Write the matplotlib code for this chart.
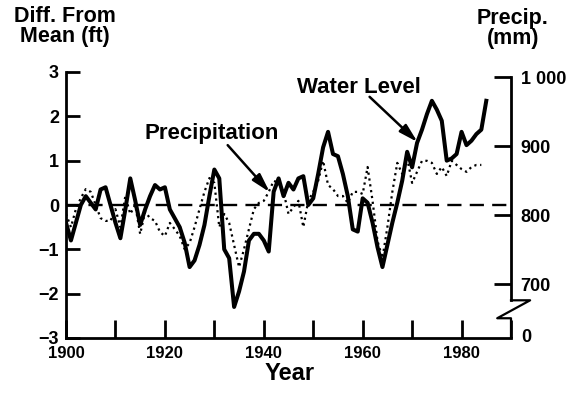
import matplotlib
matplotlib.use("Agg")
import matplotlib.pyplot as plt
from matplotlib.lines import Line2D

# annual water level, difference from mean (ft), 1900-1985
water_level = [
    -0.4, -0.8, -0.4, 0.0, 0.2, 0.05, -0.1, 0.35, 0.4, 0.0,
    -0.4, -0.75, -0.1, 0.6, 0.1, -0.45, -0.1, 0.2, 0.45, 0.35,
    0.4, -0.1, -0.3, -0.5, -0.85, -1.4, -1.25, -0.9, -0.45, 0.2,
    0.8, 0.6, -1.0, -1.2, -2.3, -1.95, -1.5, -0.8, -0.65, -0.65,
    -0.8, -1.05, 0.3, 0.6, 0.2, 0.5, 0.35, 0.6, 0.65, 0.0,
    0.15, 0.7, 1.3, 1.65, 1.15, 1.1, 0.7, 0.2, -0.55, -0.6,
    0.15, 0.05, -0.4, -0.95, -1.4, -0.9, -0.4, 0.05, 0.55, 1.2,
    0.85, 1.4, 1.7, 2.05, 2.35, 2.15, 1.9, 1.0, 1.05, 1.15,
    1.65, 1.35, 1.45, 1.6, 1.7, 2.35,
]

# annual precipitation (mm), 1900-1984
precip_mm = [
    802, 783, 809, 825, 838, 834, 815, 796, 792, 792,
    809, 783, 828, 802, 815, 773, 805, 796, 792, 776,
    770, 789, 780, 770, 751, 760, 783, 809, 834, 854,
    847, 783, 802, 789, 757, 725, 751, 780, 809, 818,
    821, 834, 850, 847, 834, 802, 812, 821, 783, 821,
    834, 850, 879, 844, 838, 828, 828, 818, 834, 834,
    831, 870, 821, 763, 738, 783, 834, 876, 860, 883,
    847, 863, 879, 879, 876, 860, 870, 857, 879, 873,
    867, 863, 870, 873, 873,
]

first_year = 1900
x_ticks = list(range(1900, 1991, 10))
x_labels = ["1900", "", "1920", "", "1940", "", "1960", "", "1980", ""]
left_ticks = [-3, -2, -1, 0, 1, 2, 3]
right_ticks = [700, 800, 900, 1000]
right_labels = ["700", "800", "900", "1 000"]

# precip axis lined up with the ft axis: mean precip sits on the zero line
MEAN_MM = 815
MM_PER_FT = 64.2

plt.rcParams["font.family"] = ["Liberation Sans", "DejaVu Sans"]
plt.rcParams["font.weight"] = "bold"

fig = plt.figure(figsize=(5.77, 3.93), dpi=100)
ax = fig.add_axes([66 / 577, 1 - 338 / 393, 445 / 577, 266 / 393])
ax2 = ax.twinx()

wl_years = list(range(first_year, first_year + len(water_level)))
pr_years = list(range(first_year, first_year + len(precip_mm)))

ax.axhline(0, color="black", lw=1.7, dashes=(6, 3.5))
ax.plot(wl_years, water_level, color="black", lw=2.9)
ax2.plot(pr_years, precip_mm, color="black", lw=1.6, ls=":")

ax.set_xlim(1900, 1990)
ax.set_ylim(-3, 3)
ax2.set_ylim(MEAN_MM - 3 * MM_PER_FT, MEAN_MM + 3 * MM_PER_FT)

for s in ["top", "right"]:
    ax.spines[s].set_visible(False)
for s in ax2.spines.values():
    s.set_visible(False)
ax.spines["left"].set_linewidth(2)
ax.spines["bottom"].set_linewidth(2)

ax.set_xticks(x_ticks)
ax.set_xticklabels(x_labels)
ax.set_yticks(left_ticks)
ax.tick_params(axis="x", direction="in", length=13, width=2, labelsize=12, pad=6)
ax.tick_params(axis="y", direction="in", length=10, width=2, labelsize=13, pad=5)
ax2.set_yticks(right_ticks)
ax2.set_yticklabels(right_labels)
ax2.tick_params(axis="y", direction="in", length=12, width=2, labelsize=13, pad=7)

# right spine with a break between 700 and 0
tr = ax2.get_yaxis_transform()
lo = MEAN_MM - 3 * MM_PER_FT
brk_top, brk_bot = 677, 651
ax2.add_line(Line2D([1, 1], [1000, brk_top], transform=tr, color="black", lw=2, clip_on=False))
ax2.add_line(Line2D([1, 1.043, 0.969, 1, 1], [brk_top, brk_top, brk_bot, brk_bot, lo],
                    transform=tr, color="black", lw=1.6, clip_on=False))
ax2.text(1.022, lo, "0", transform=tr, ha="left", va="center", fontsize=13)

# axis titles
fig.text(65 / 577, 1 - 6 / 393, "Diff. From\nMean (ft)", ha="center", va="top",
         fontsize=15.5, linespacing=0.95)
fig.text(513 / 577, 1 - 8 / 393, "Precip.\n(mm)", ha="center", va="top",
         fontsize=15.5, linespacing=0.95)
fig.text(290 / 577, 1 - 373 / 393, "Year", ha="center", va="center", fontsize=17)

# callouts
arrow = dict(arrowstyle="-|>,head_width=0.22,head_length=0.8", color="black", lw=1.8,
             shrinkA=0, shrinkB=0, mutation_scale=14)
ax.text(1959.2, 2.64, "Water Level", ha="center", va="center", fontsize=16)
ax.annotate("", xy=(1971.1, 1.42), xytext=(1961.4, 2.44), arrowprops=arrow)
ax.text(1929.4, 1.62, "Precipitation", ha="center", va="center", fontsize=16)
ax.annotate("", xy=(1941.2, 0.29), xytext=(1932.7, 1.35), arrowprops=arrow)

fig.savefig("out.png", dpi=100)
